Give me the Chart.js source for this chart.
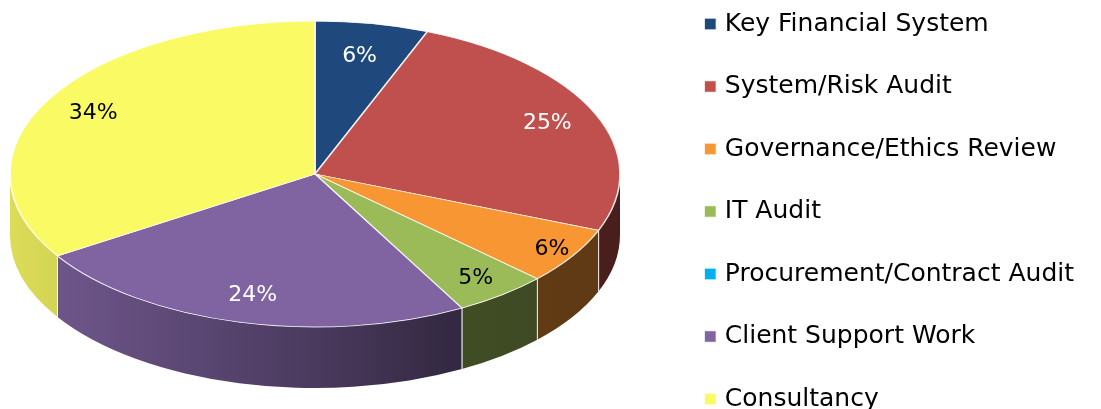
<!DOCTYPE html>
<html>
<head>
<meta charset="utf-8">
<script src="https://cdn.jsdelivr.net/npm/chart.js@4"></script>
<style>
  html, body { margin: 0; padding: 0; background: #fff; overflow: hidden; }
  #wrap { position: relative; width: 1101px; height: 409px; overflow: hidden; }
  #chart { position: absolute; left: 0; top: -26px; }
</style>
</head>
<body>
<div id="wrap"><canvas id="chart" width="1101" height="500"></canvas></div>
<script>
// Audit plan split by work type (percent of days)
const categories = [
    "Key Financial System",
    "System/Risk Audit",
    "Governance/Ethics Review",
    "IT Audit",
    "Procurement/Contract Audit",
    "Client Support Work",
    "Consultancy",
];
const shares = [6, 25, 6, 5, 0, 24, 34];
const sliceColors = ["#1F497D", "#C0504D", "#F79633", "#9BBB59", "#00B0F0", "#8064A2", "#FAFA64"];
const labelColors = ["#fff", "#fff", "#000", "#000", "#000", "#fff", "#000"];

const FONT = "'DejaVu Sans', sans-serif";

function hexToRgb(hex) {
    const n = parseInt(hex.slice(1), 16);
    return [(n >> 16) & 255, (n >> 8) & 255, n & 255];
}

function shade(hex, f) {
    const [r, g, b] = hexToRgb(hex);
    return `rgb(${Math.round(r * f)}, ${Math.round(g * f)}, ${Math.round(b * f)})`;
}

// Flattens the library's pie into a tilted ellipse and gives it a side wall.
const pie3d = {
    id: "pie3d",
    beforeDatasetsDraw(chart, args, opts) {
        const ctx = chart.ctx;
        const arcs = chart.getDatasetMeta(0).data;
        if (!arcs.length) return;
        const { cx, cy, rx, ry, depth } = opts;

        // side wall: only the front half (canvas angles 0..PI) is visible
        arcs.forEach((arc, i) => {
            const a = Math.max(arc.startAngle, 0);
            const b = Math.min(arc.endAngle, Math.PI);
            if (b - a <= 0.0005) return;
            const grad = ctx.createLinearGradient(cx - rx, 0, cx + rx, 0);
            opts.sideShade.forEach(([t, f]) => grad.addColorStop(t, shade(sliceColors[i], f)));
            ctx.save();
            ctx.beginPath();
            ctx.ellipse(cx, cy, rx, ry, 0, a, b);
            ctx.ellipse(cx, cy + depth, rx, ry, 0, b, a, true);
            ctx.closePath();
            ctx.fillStyle = grad;
            ctx.fill();
            // light seams between wall segments
            ctx.strokeStyle = "rgba(255,255,255,0.8)";
            ctx.lineWidth = 1;
            [a, b].forEach(t => {
                if (t === 0 || t === Math.PI) return;
                const x = cx + rx * Math.cos(t);
                const y = cy + ry * Math.sin(t);
                ctx.beginPath();
                ctx.moveTo(x, y);
                ctx.lineTo(x, y + depth);
                ctx.stroke();
            });
            ctx.restore();
        });

        // top face: squash the library's arcs into the ellipse
        const ref = arcs[0];
        const R = ref.outerRadius;
        ctx.save();
        ctx.translate(cx, cy);
        ctx.scale(rx / R, ry / R);
        ctx.translate(-ref.x, -ref.y);
    },
    afterDatasetsDraw(chart, args, opts) {
        const ctx = chart.ctx;
        ctx.restore();
        const arcs = chart.getDatasetMeta(0).data;
        const { cx, cy, rx, ry } = opts;
        const total = shares.reduce((s, v) => s + v, 0);
        ctx.save();
        ctx.font = `22px ${FONT}`;
        ctx.textAlign = "center";
        ctx.textBaseline = "middle";
        arcs.forEach((arc, i) => {
            if (!shares[i]) return;
            const mid = (arc.startAngle + arc.endAngle) / 2;
            const k = opts.labelRadius[i];
            const x = cx + rx * k * Math.cos(mid);
            const y = cy + ry * k * Math.sin(mid);
            ctx.fillStyle = labelColors[i];
            ctx.fillText(Math.round(shares[i] / total * 100) + "%", x, y);
        });
        ctx.restore();
    },
};

new Chart(document.getElementById("chart"), {
    type: "pie",
    data: {
        labels: categories,
        datasets: [{
            data: shares,
            backgroundColor: sliceColors,
            borderColor: "rgba(255,255,255,0.85)",
            borderWidth: 1.3,
            clip: false,
        }],
    },
    plugins: [pie3d],
    options: {
        responsive: false,
        animation: false,
        layout: { padding: { right: 17 } },
        plugins: {
            pie3d: {
                cx: 315, cy: 200, rx: 305, ry: 153, depth: 61,
                labelRadius: [0.78, 0.83, 0.92, 0.86, 0.83, 0.82, 0.83],
                sideShade: [[0, 0.88], [0.1, 0.84], [0.5, 0.58], [0.72, 0.41], [1, 0.38]],
            },
            legend: {
                position: "right",
                align: "start",
                labels: {
                    usePointStyle: true,
                    pointStyle: "rect",
                    boxWidth: 4,
                    boxHeight: 12,
                    padding: 37.5,
                    color: "#000",
                    font: { family: FONT, size: 25 },
                },
            },
            tooltip: { enabled: false },
        },
    },
});
</script>
</body>
</html>
